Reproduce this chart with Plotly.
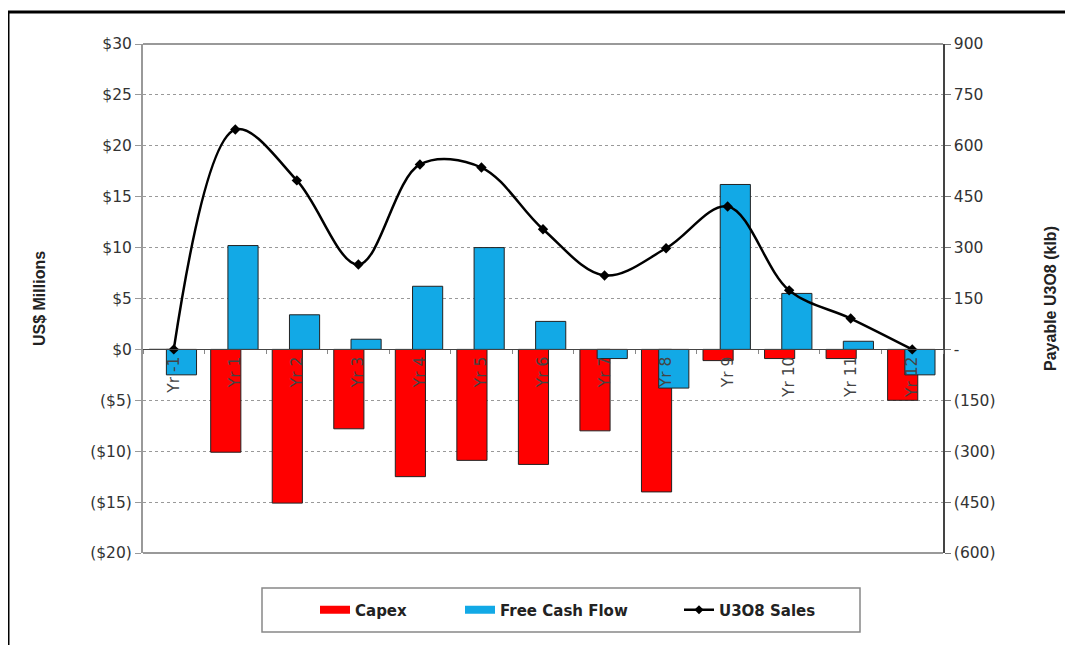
import plotly.graph_objects as go

categories = ["Yr -1", "Yr 1", "Yr 2", "Yr 3", "Yr 4", "Yr 5", "Yr 6",
              "Yr 7", "Yr 8", "Yr 9", "Yr 10", "Yr 11", "Yr 12"]
capex = [0, -10.1, -15.1, -7.8, -12.5, -10.9, -11.3, -8.0, -14.0, -1.1, -0.9, -0.9, -5.0]
free_cash_flow = [-2.5, 10.2, 3.4, 1.0, 6.2, 10.0, 2.75, -0.9, -3.8, 16.2, 5.5, 0.8, -2.5]
u3o8_sales = [0, 648, 498, 250, 545, 536, 354, 218, 298, 421, 174, 91, 0]

left_vals = [-20, -15, -10, -5, 0, 5, 10, 15, 20, 25, 30]
left_text = ["($20)", "($15)", "($10)", "($5)", "$0", "$5", "$10", "$15", "$20", "$25", "$30"]
right_vals = [-600, -450, -300, -150, 0, 150, 300, 450, 600, 750, 900]
right_text = ["(600)", "(450)", "(300)", "(150)", "-", "150", "300", "450", "600", "750", "900"]

TICK_FONT = "DejaVu Sans, Verdana, sans-serif"
TITLE_FONT = "Liberation Sans, Arial, sans-serif"
OFF = 8  # default page body margin
PAGE_W, PAGE_H = 1073, 645
W, H = PAGE_W - OFF, PAGE_H - OFF
# plot area in page pixels: x 143..943, y 44..553
L, T = 143 - OFF, 44 - OFF
R = W - (943 - OFF)
B = H - (553 - OFF)
PW, PH = W - L - R, H - T - B

RED = "#FF0000"
BLUE = "#12A9E6"


def px_x(px):
    return (px - OFF - L) / PW


def px_y(py):
    return (H - B - (py - OFF)) / PH


fig = go.Figure()
fig.add_trace(go.Bar(
    x=categories, y=capex, name="Capex", showlegend=False,
    marker=dict(color=RED, line=dict(color="#222222", width=1)),
    width=0.49, offset=-0.40,
))
fig.add_trace(go.Bar(
    x=categories, y=free_cash_flow, name="Free Cash Flow", showlegend=False,
    marker=dict(color=BLUE, line=dict(color="#222222", width=1)),
    width=0.49, offset=-0.12,
))
fig.add_trace(go.Scatter(
    x=categories, y=u3o8_sales, name="U3O8 Sales", yaxis="y2",
    mode="lines+markers", showlegend=False,
    line=dict(color="black", width=2.5, shape="spline", smoothing=1.0),
    marker=dict(symbol="diamond", size=8, color="black"),
))

# legend entries (one legend each, to place them like the original)
fig.add_trace(go.Scatter(x=[None], y=[None], name="Capex", mode="lines",
                         line=dict(color=RED, width=8), legend="legend"))
fig.add_trace(go.Scatter(x=[None], y=[None], name="Free Cash Flow", mode="lines",
                         line=dict(color=BLUE, width=8), legend="legend2"))
fig.add_trace(go.Scatter(x=[None], y=[None], name="U3O8 Sales", mode="lines+markers",
                         line=dict(color="black", width=2.5),
                         marker=dict(symbol="diamond", size=7, color="black"),
                         legend="legend3"))

leg_common = dict(
    orientation="h", xanchor="left", y=px_y(610), yanchor="middle",
    font=dict(family=TICK_FONT, size=15, color="#222222", weight="bold"),
    bgcolor="rgba(0,0,0,0)", borderwidth=0, itemwidth=30,
)

fig.update_layout(
    width=W, height=H,
    margin=dict(l=L, r=R, t=T, b=B, pad=0),
    paper_bgcolor="white", plot_bgcolor="white",
    barmode="overlay",
    font=dict(family=TICK_FONT, size=15, color="#333333"),
    showlegend=True,
    legend=dict(x=px_x(315), **leg_common),
    legend2=dict(x=px_x(460), **leg_common),
    legend3=dict(x=px_x(679), **leg_common),
    xaxis=dict(
        type="category", anchor="free", position=0.4,
        tickangle=-90, ticks="outside", tickson="boundaries", ticklen=4,
        tickcolor="#888888", showline=True, linecolor="#444444", linewidth=1,
        showgrid=False, tickfont=dict(family=TICK_FONT, size=15.5, color="#444444"),
        range=[-0.5, 12.5],
    ),
    yaxis=dict(
        range=[-20, 30], tickvals=left_vals, ticktext=left_text,
        showgrid=True, gridcolor="#999999", griddash="dot", gridwidth=1,
        showline=True, linecolor="#999999", linewidth=2,
        ticks="outside", ticklen=6, tickcolor="#999999",
        zeroline=False,
        tickfont=dict(family=TICK_FONT, size=15.5, color="#333333"),
        title=dict(text="US$ Millions", standoff=41,
                   font=dict(family=TITLE_FONT, size=16, color="#222222", weight="bold")),
    ),
    yaxis2=dict(
        overlaying="y", side="right", range=[-600, 900],
        tickvals=right_vals, ticktext=right_text,
        showgrid=False, zeroline=False,
        showline=True, linecolor="#444444", linewidth=1.5,
        ticks="outside", ticklen=6, tickcolor="#777777",
        tickfont=dict(family=TICK_FONT, size=15.5, color="#333333"),
        title=dict(text="Payable U3O8 (klb)", standoff=50,
                   font=dict(family=TITLE_FONT, size=16, color="#222222", weight="bold")),
    ),
    shapes=[
        dict(type="line", xref="paper", yref="paper", x0=0, x1=1, y0=1, y1=1,
             line=dict(color="#999999", width=2)),
        dict(type="line", xref="paper", yref="paper", x0=0, x1=1, y0=0, y1=0,
             line=dict(color="#999999", width=2)),
        dict(type="rect", xref="paper", yref="paper",
             x0=px_x(262), x1=px_x(860), y0=px_y(632), y1=px_y(588),
             line=dict(color="#888888", width=1.5), fillcolor="rgba(0,0,0,0)"),
        dict(type="rect", xref="paper", yref="paper",
             x0=px_x(8), x1=px_x(1100), y0=px_y(700), y1=px_y(12),
             line=dict(color="black", width=3), fillcolor="rgba(0,0,0,0)"),
    ],
)

fig.write_html("out.html")
